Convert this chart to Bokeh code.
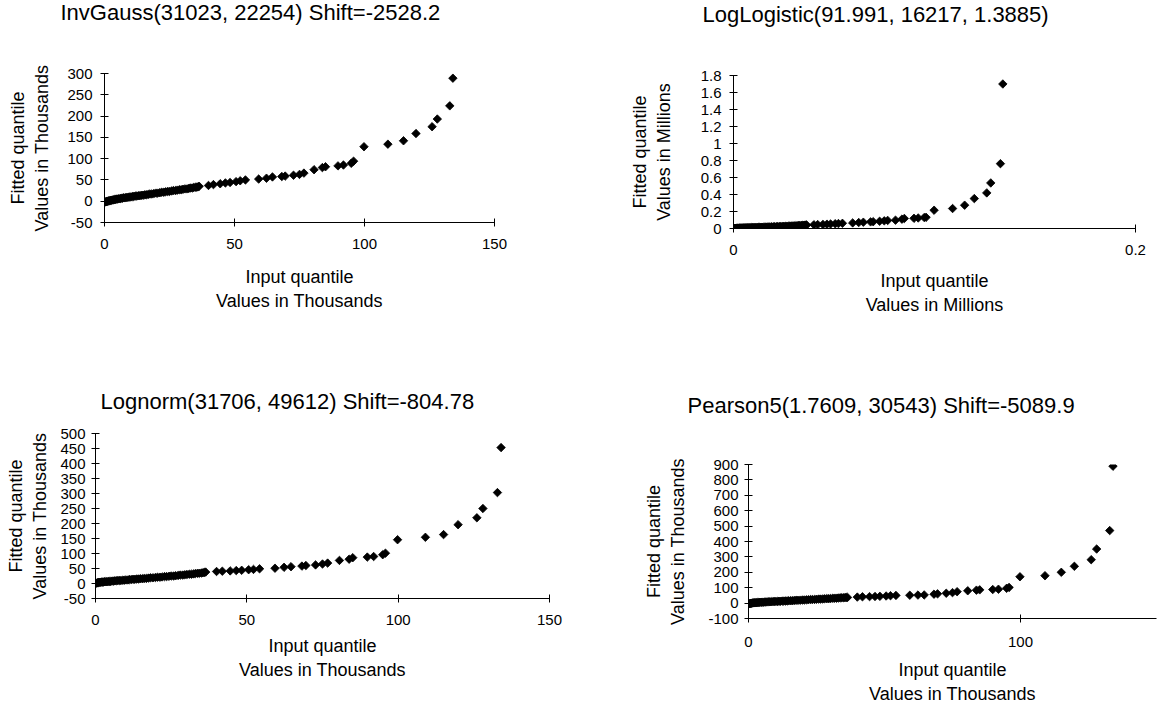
import math

from bokeh.embed import file_html
from bokeh.layouts import column, row
from bokeh.models import FixedTicker, Range1d, Title
from bokeh.plotting import figure
from bokeh.resources import INLINE

# Sorted input sample (thousands) shared by every Q-Q panel
input_q = [
    0.2, 0.5, 0.8, 1.0, 1.3, 1.6, 2.0, 2.3, 2.7, 3.0,
    3.4, 3.8, 4.2, 4.6, 5.0, 5.5, 6.0, 6.4, 6.9, 7.4,
    7.9, 8.4, 9.0, 9.5, 10.1, 10.7, 11.2, 11.8, 12.4, 13.0,
    13.6, 14.2, 14.8, 15.5, 16.1, 16.8, 17.5, 18.2, 19.0, 19.8,
    20.5, 21.3, 22.0, 22.8, 23.5, 24.3, 25.0, 25.8, 26.5, 27.3,
    28.0, 28.8, 29.5, 30.2, 31.0, 31.7, 32.4, 33.0, 33.7, 34.3,
    35.0, 35.5, 36.0, 36.4,
    40.0, 41.9, 44.5, 46.5, 48.3, 50.6, 52.2, 54.2, 59.3, 62.3,
    64.6, 68.2, 69.5, 72.7, 75.0, 76.7, 80.6, 83.8, 85.0, 89.8,
    91.9, 94.9, 95.8, 99.8, 109.0, 115.0, 119.8, 126.0, 128.0, 132.8,
    134.0,
]

# Fitted quantiles (thousands) for each candidate distribution
invgauss_q = [
    -2, -1, -1, 0, 0, 1, 1, 2, 2, 3,
    3, 4, 4, 5, 5, 6, 6, 7, 7, 8,
    8, 9, 9, 10, 10, 11, 11, 12, 12, 13,
    13, 14, 14, 15, 15, 16, 17, 17, 18, 19,
    19, 20, 21, 21, 22, 23, 23, 24, 25, 25,
    26, 27, 27, 28, 29, 29, 30, 31, 31, 32,
    33, 33, 34, 35,
    37, 39, 41, 43, 44, 46, 48, 50, 52, 54,
    57, 58, 59, 61, 63, 66, 74, 79, 81, 83,
    85, 89, 94, 128, 134, 142, 159, 175, 193, 224,
    289,
]

loglogistic_q = [
    0.5, 1, 1.5, 2, 2.5, 3, 3.5, 4, 4.5, 5,
    5, 5.5, 6, 6.5, 7, 7, 7.5, 8, 8.5, 9,
    9.5, 10, 10.5, 11, 11.5, 12, 12.5, 13, 13.5, 14,
    14.5, 15, 15.5, 16, 17, 17.5, 18, 19, 19.5, 20,
    21, 22, 22.5, 23, 24, 25, 25.5, 26, 27, 28,
    29, 29.5, 30, 31, 32, 33, 34, 35, 36, 37,
    38, 39, 40, 41,
    44, 46, 48, 51, 53, 56, 58, 61, 66, 70,
    74, 78, 80, 85, 90, 95, 98, 110, 118, 120,
    124, 129, 131, 215, 235, 274, 352, 419, 536, 763,
    1700,
]

lognorm_q = [
    1, 2, 3, 3, 4, 4, 5, 5, 5, 6,
    6, 6, 7, 7, 7, 8, 8, 9, 9, 10,
    10, 10, 11, 11, 12, 12, 13, 13, 14, 14,
    15, 15, 16, 16, 17, 17, 18, 19, 19, 20,
    21, 21, 22, 23, 23, 24, 25, 25, 26, 27,
    28, 28, 29, 30, 31, 31, 32, 33, 34, 34,
    35, 36, 37, 38,
    40, 41, 42, 43, 44, 46, 47, 49, 51, 54,
    56, 58, 60, 62, 65, 68, 77, 81, 86, 88,
    90, 96, 101, 146, 154, 163, 196, 219, 250, 303,
    453,
]

pearson5_q = [
    -4, -3, -2, -1, 0, 1, 2, 2, 3, 3,
    4, 4, 5, 5, 6, 6, 7, 7, 8, 8,
    9, 9, 10, 10, 11, 11, 12, 12, 13, 13,
    14, 14, 15, 16, 16, 17, 18, 18, 19, 20,
    20, 21, 22, 23, 23, 24, 25, 26, 26, 27,
    28, 29, 29, 30, 31, 32, 32, 33, 34, 35,
    35, 36, 37, 37,
    39, 41, 42, 43, 44, 46, 48, 50, 51, 52,
    53, 58, 60, 64, 68, 74, 80, 84, 86, 88,
    90, 96, 102, 171, 178, 200, 239, 282, 351, 471,
    889,
]

# Panel titles and axis texts
titles = [
    "InvGauss(31023, 22254) Shift=-2528.2",
    "LogLogistic(91.991, 16217, 1.3885)",
    "Lognorm(31706, 49612) Shift=-804.78",
    "Pearson5(1.7609, 30543) Shift=-5089.9",
]
y_title_k = "Fitted quantile\nValues in Thousands"
y_title_m = "Fitted quantile\nValues in Millions"
x_title_k = "Input quantile\nValues in Thousands"
x_title_m = "Input quantile\nValues in Millions"

# Tick values and their labels
ticks_x_150 = [0, 50, 100, 150]
ticks_x_150_labels = ["0", "50", "100", "150"]
ticks_x_mil = [0, 0.2]
ticks_x_mil_labels = ["0", "0.2"]
ticks_x_100 = [0, 100]
ticks_x_100_labels = ["0", "100"]
ticks_y_300 = [-50, 0, 50, 100, 150, 200, 250, 300]
ticks_y_300_labels = ["-50", "0", "50", "100", "150", "200", "250", "300"]
ticks_y_mil = [0, 0.2, 0.4, 0.6, 0.8, 1, 1.2, 1.4, 1.6, 1.8]
ticks_y_mil_labels = ["0", "0.2", "0.4", "0.6", "0.8", "1", "1.2", "1.4", "1.6", "1.8"]
ticks_y_500 = [-50, 0, 50, 100, 150, 200, 250, 300, 350, 400, 450, 500]
ticks_y_500_labels = ["-50", "0", "50", "100", "150", "200", "250", "300", "350", "400", "450", "500"]
ticks_y_900 = [-100, 0, 100, 200, 300, 400, 500, 600, 700, 800, 900]
ticks_y_900_labels = ["-100", "0", "100", "200", "300", "400", "500", "600", "700", "800", "900"]

FONT = "Liberation Sans"


def make_panel(size, frame, xr, yr, xt, xl, yt, yl, xs, ys, title, title_offset,
               title_gap, x_title, y_title, x_lab_standoff, y_lab_standoff,
               x_tick_standoff=12, y_tick_standoff=8, title_standoff=0):
    W, H = size
    L, T, R, B = frame
    p = figure(
        width=W, height=H, output_backend="svg", toolbar_location=None, tools="",
        x_range=Range1d(*xr), y_range=Range1d(*yr),
        min_border_left=L, min_border_right=W - R,
        min_border_top=T, min_border_bottom=H - B,
    )
    p.outline_line_color = None
    p.grid.visible = False
    p.background_fill_color = "white"
    p.border_fill_color = "white"

    # blank spacer between the frame and the heading, then the heading itself
    p.add_layout(Title(text=" ", text_font_size="1px", standoff=title_gap), "above")
    p.add_layout(Title(text=title, align="left", offset=title_offset,
                       standoff=title_standoff,
                       text_font=FONT, text_font_size="22px",
                       text_font_style="normal", text_color="black"), "above")

    for ax, t, lab, so, lbl, lso in (
        (p.xaxis, xt, xl, x_tick_standoff, x_title, x_lab_standoff),
        (p.yaxis, yt, yl, y_tick_standoff, y_title, y_lab_standoff),
    ):
        ax.ticker = FixedTicker(ticks=t)
        ax.major_label_overrides = dict(zip(t, lab))
        ax.minor_tick_line_color = None
        ax.major_tick_in = 4
        ax.major_tick_out = 4
        ax.major_tick_line_color = "black"
        ax.axis_line_color = "black"
        ax.major_label_standoff = so
        ax.major_label_text_font = FONT
        ax.major_label_text_font_size = "15px"
        ax.major_label_text_color = "black"
        ax.axis_label = lbl
        ax.axis_label_standoff = lso
        ax.axis_label_text_font = FONT
        ax.axis_label_text_font_size = "18px"
        ax.axis_label_text_font_style = "normal"
        ax.axis_label_text_color = "black"
        ax.axis_label_text_line_height = 1.2

    p.scatter(xs, ys, marker="square", size=6, angle=math.pi / 4,
              fill_color="black", line_color="black", line_width=0.8)
    return p


p1 = make_panel(
    (578, 345), (104, 73, 494, 222), (0, 150), (-50, 300),
    ticks_x_150, ticks_x_150_labels, ticks_y_300, ticks_y_300_labels,
    input_q, invgauss_q, titles[0], -44, 50, x_title_k, y_title_k, 15, 12,
    title_standoff=-8,
)

p2 = make_panel(
    (579, 345), (155, 75, 557, 228), (0, 0.2), (0, 1.8),
    ticks_x_mil, ticks_x_mil_labels, ticks_y_mil, ticks_y_mil_labels,
    [v / 1000 for v in input_q], [v / 1000 for v in loglogistic_q],
    titles[1], -31, 50, x_title_m, y_title_m, 13, 24, x_tick_standoff=12,
    title_standoff=-8,
)

p3 = make_panel(
    (578, 370), (95, 88, 549, 253), (0, 150), (-50, 500),
    ticks_x_150, ticks_x_150_labels, ticks_y_500, ticks_y_500_labels,
    input_q, lognorm_q, titles[2], 5, 17, x_title_k, y_title_k, 8, 7,
    y_tick_standoff=6,
)

p4 = make_panel(
    (579, 370), (170, 119, 578, 273), (0, 150), (-100, 900),
    ticks_x_100, ticks_x_100_labels, ticks_y_900, ticks_y_900_labels,
    input_q, pearson5_q, titles[3], -61, 44, x_title_k, y_title_k, 10, 17,
    x_tick_standoff=14, y_tick_standoff=6,
)

layout = column(row(column(p1), column(p2)), row(column(p3), column(p4)))

with open("out.html", "w") as f:
    f.write(file_html(layout, INLINE))
